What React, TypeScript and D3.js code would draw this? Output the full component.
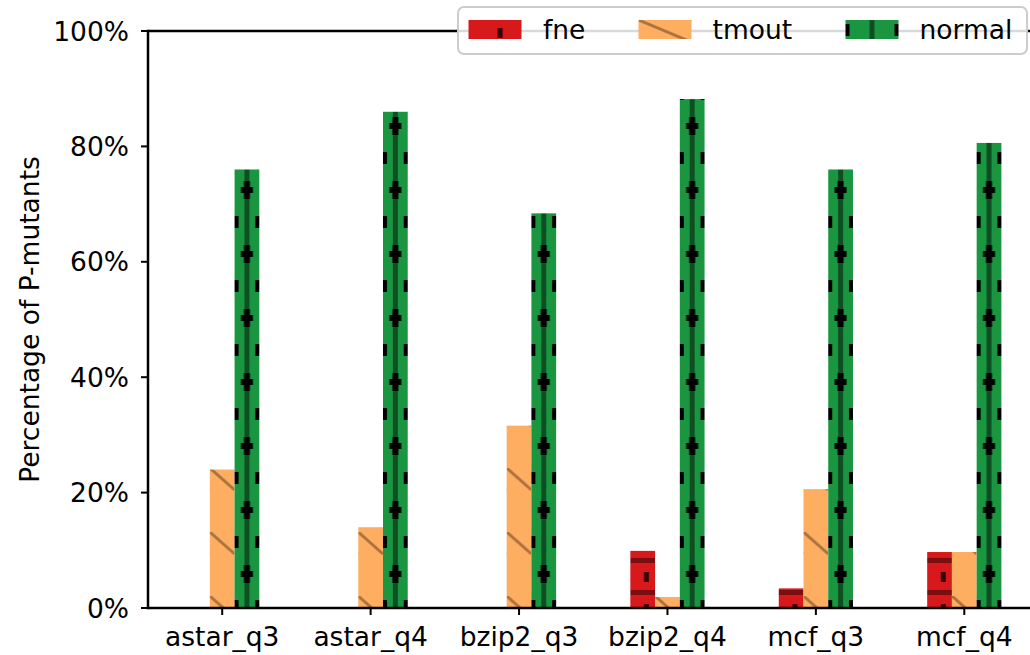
import React from "react";
import * as d3 from "d3";

const categories = ["astar_q3", "astar_q4", "bzip2_q3", "bzip2_q4", "mcf_q3", "mcf_q4"];
const seriesNames = ["fne", "tmout", "normal"];
const fneValues = [0, 0, 0, 9.9, 3.4, 9.7];
const tmoutValues = [24.0, 14.0, 31.6, 1.9, 20.6, 9.7];
const normalValues = [76.0, 86.0, 68.4, 88.2, 76.0, 80.6];
const yTicks = [0, 20, 40, 60, 80, 100];

const W = 1030;
const H = 655;
const left = 148;
const right = 1038.5;
const top = 31;
const bottom = 608;
const font = "DejaVu Sans";
const fs = 26.5;

const colors: Record<string, string> = {
  fne: "#d7191c",
  tmout: "#fdae61",
  normal: "#1a9641",
};

// hatch tile for a bar, anchored at its left edge
function Hatch({ id, kind, x0, w }: { id: string; kind: string; x0: number; w: number }) {
  if (kind === "fne") {
    return (
      <pattern id={id} patternUnits="userSpaceOnUse" x={x0} y={14} width={w} height={32}>
        <rect width={w} height={32} fill={colors.fne} />
        <rect y={0} width={w} height={5} fill="#7a0e10" />
        <rect x={w * 0.55} y={14} width={5} height={10} fill="#3a0406" />
      </pattern>
    );
  }
  if (kind === "tmout") {
    return (
      <pattern id={id} patternUnits="userSpaceOnUse" x={x0} y={20} width={w} height={64}>
        <rect width={w} height={64} fill={colors.tmout} />
        <line x1={0} y1={0} x2={w} y2={22} stroke="#8a5a30" strokeWidth={3} opacity={0.7} />
      </pattern>
    );
  }
  return (
    <pattern id={id} patternUnits="userSpaceOnUse" x={x0} y={30} width={w} height={64}>
      <rect width={w} height={64} fill={colors.normal} />
      <rect x={w / 2 - 2.5} y={0} width={5} height={64} fill="#0d4f22" />
      <rect x={w / 2 - 6} y={29} width={12} height={6} fill="#000" />
      <rect x={w / 2 - 3} y={23} width={6} height={18} fill="#000" />
      <rect x={0} y={58} width={4} height={12} fill="#000" />
      <rect x={0} y={-6} width={4} height={12} fill="#000" />
      <rect x={w - 4} y={58} width={4} height={12} fill="#000" />
      <rect x={w - 4} y={-6} width={4} height={12} fill="#000" />
    </pattern>
  );
}

export default function App() {
  const x = d3.scaleBand<string>().domain(categories).range([left, right]).padding(0);
  const y = d3.scaleLinear().domain([0, 100]).range([bottom, top]);
  const bw = x.bandwidth() / 6;
  const valuesBySeries: Record<string, number[]> = {
    fne: fneValues,
    tmout: tmoutValues,
    normal: normalValues,
  };

  const bars: { id: string; kind: string; x0: number; y0: number; h: number }[] = [];
  categories.forEach((c, i) => {
    const cx = (x(c) as number) + x.bandwidth() / 2;
    seriesNames.forEach((s, j) => {
      const v = valuesBySeries[s][i];
      const x0 = cx + (j - 1.5) * bw;
      bars.push({ id: `h-${s}-${i}`, kind: s, x0, y0: y(v), h: y(0) - y(v) });
    });
  });

  const legendX = [468.5, 638.5, 845.5];
  const legendTextX = [543, 712.5, 919.5];
  const patchW = 53;

  return (
    <svg
      width={W}
      height={H}
      style={{ position: "absolute", left: 0, top: 0, background: "#fff" }}
      fontFamily={font}
    >
      <defs>
        {bars.map((b) => (
          <Hatch key={b.id} id={b.id} kind={b.kind} x0={b.x0} w={bw} />
        ))}
        {seriesNames.map((s, j) => (
          <Hatch key={s} id={`lg-${s}`} kind={s} x0={legendX[j]} w={patchW} />
        ))}
      </defs>

      {bars
        .filter((b) => b.h > 0)
        .map((b) => (
          <rect key={b.id} x={b.x0} y={b.y0} width={bw} height={b.h} fill={`url(#${b.id})`} />
        ))}

      {/* spines */}
      <g stroke="#000" strokeWidth={2.5} fill="none">
        <line x1={left} x2={left} y1={top - 1.25} y2={bottom + 1.25} />
        <line x1={left} x2={right} y1={bottom} y2={bottom} />
        <line x1={left} x2={right} y1={top} y2={top} />
        <line x1={right} x2={right} y1={top} y2={bottom} />
      </g>

      {/* y axis */}
      {yTicks.map((t) => (
        <g key={t} transform={`translate(0,${y(t)})`}>
          <line x1={left - 7} x2={left} stroke="#000" strokeWidth={2} />
          <text x={129} textAnchor="end" dominantBaseline="central" fontSize={fs} fill="#000">
            {`${t}%`}
          </text>
        </g>
      ))}
      <text
        transform={`translate(39,${(top + bottom) / 2}) rotate(-90)`}
        textAnchor="middle"
        fontSize={fs}
        fill="#000"
      >
        Percentage of P-mutants
      </text>

      {/* x axis */}
      {categories.map((c) => {
        const cx = (x(c) as number) + x.bandwidth() / 2;
        return (
          <g key={c} transform={`translate(${cx},0)`}>
            <line y1={bottom} y2={bottom + 7} stroke="#000" strokeWidth={2} />
            <text y={646} textAnchor="middle" fontSize={fs} fill="#000">
              {c}
            </text>
          </g>
        );
      })}

      {/* legend */}
      <rect x={458} y={7} width={569} height={47} rx={6} fill="#fff" fillOpacity={0.85} stroke="#cccccc" strokeWidth={2} />
      {seriesNames.map((s, j) => (
        <g key={s}>
          <rect x={legendX[j]} y={20} width={patchW} height={19} fill={`url(#lg-${s})`} />
          <text x={legendTextX[j]} y={29.5} dominantBaseline="central" fontSize={fs} fill="#000">
            {s}
          </text>
        </g>
      ))}
    </svg>
  );
}
